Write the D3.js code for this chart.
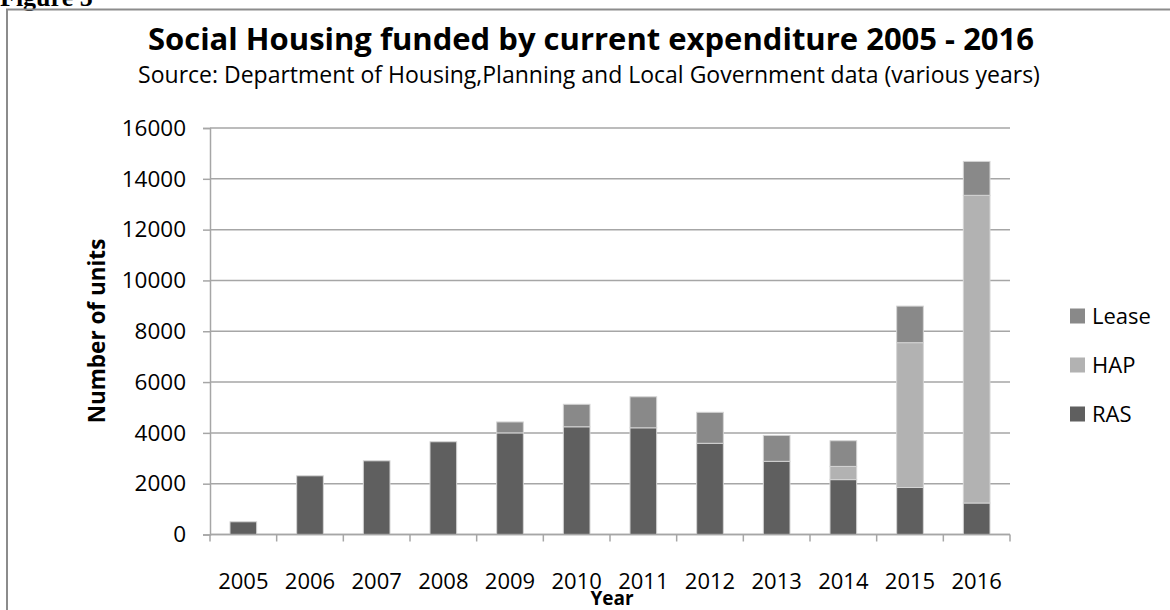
<!DOCTYPE html>
<html>
<head>
<meta charset="utf-8">
<script src="https://cdn.jsdelivr.net/npm/d3@7"></script>
<style>
  body { margin: 0; background: #fff; }
  svg { display: block; }
  text { font-family: "Open Sans", sans-serif; fill: #000; }
</style>
</head>
<body>
<svg width="1170" height="610"></svg>
<script>
// data
const years = ["2005","2006","2007","2008","2009","2010","2011","2012","2013","2014","2015","2016"];
const ras   = [500, 2310, 2900, 3650, 4000, 4240, 4200, 3590, 2880, 2160, 1850, 1240];
const hap   = [0, 0, 0, 0, 0, 0, 0, 0, 0, 520, 5700, 12110];
const lease = [0, 0, 0, 0, 430, 885, 1220, 1220, 1020, 1010, 1440, 1335];
const seriesNames = ["RAS", "HAP", "Lease"];
const seriesColors = ["#5f5f5f", "#b2b2b2", "#898989"];
const yTicks = [0, 2000, 4000, 6000, 8000, 10000, 12000, 14000, 16000];

const rows = years.map((y, i) => ({ year: y, RAS: ras[i], HAP: hap[i], Lease: lease[i] }));

const svg = d3.select("svg");

// figure caption, cut off at the top like the source
svg.append("text")
    .attr("x", 0).attr("y", 6)
    .style("font-family", "'Liberation Serif', serif")
    .attr("font-weight", "bold")
    .attr("font-size", 26)
    .text("Figure 5");

// chart frame
svg.append("rect")
    .attr("x", 7).attr("y", 9.5)
    .attr("width", 1200).attr("height", 700)
    .attr("fill", "none")
    .attr("stroke", "#8c8c8c")
    .attr("stroke-width", 2);

svg.append("text")
    .attr("x", 591).attr("y", 50)
    .attr("text-anchor", "middle")
    .attr("font-weight", "bold")
    .attr("font-size", 31)
    .text("Social Housing funded by current expenditure 2005 - 2016");

svg.append("text")
    .attr("x", 589).attr("y", 83)
    .attr("text-anchor", "middle")
    .attr("font-size", 23)
    .text("Source: Department of Housing,Planning and Local Government data (various years)");

const x = d3.scaleBand().domain(years).range([210, 1010]).paddingInner(0.6).paddingOuter(0.3);
const y = d3.scaleLinear().domain([0, 16000]).range([534.5, 128]);

// gridlines
svg.append("g")
    .selectAll("line")
    .data(yTicks)
    .join("line")
    .attr("x1", 210).attr("x2", 1010)
    .attr("y1", d => y(d)).attr("y2", d => y(d))
    .attr("stroke", "#a6a6a6")
    .attr("stroke-width", 1.5);

// y axis
const yAxis = svg.append("g")
    .attr("transform", "translate(210,0)")
    .call(d3.axisLeft(y).tickValues(yTicks).tickFormat(d3.format("d")).tickSize(7).tickPadding(17));
yAxis.select(".domain").attr("stroke", "#a6a6a6").attr("stroke-width", 1.5);
yAxis.selectAll(".tick line").attr("stroke", "#a6a6a6").attr("stroke-width", 1.5);
yAxis.selectAll("text").attr("font-size", 22.5).attr("font-family", "Open Sans").attr("fill", "#000");

// bars
const stack = d3.stack().keys(seriesNames);
const stacked = stack(rows);
svg.append("g")
    .selectAll("g")
    .data(stacked)
    .join("g")
    .attr("fill", (d, i) => seriesColors[i])
    .selectAll("rect")
    .data(d => d.filter(s => s[1] - s[0] > 0))
    .join("rect")
    .attr("x", d => x(d.data.year))
    .attr("width", x.bandwidth())
    .attr("y", d => y(d[1]))
    .attr("height", d => y(d[0]) - y(d[1]))
    .attr("stroke", "#d4d4d4")
    .attr("stroke-width", 1);

// x axis: baseline and ticks between categories
const boundaries = d3.range(years.length + 1).map(i => 210 + i * (800 / years.length));
svg.append("line")
    .attr("x1", 210).attr("x2", 1010)
    .attr("y1", y(0)).attr("y2", y(0))
    .attr("stroke", "#a6a6a6").attr("stroke-width", 1.5);
svg.append("g")
    .selectAll("line")
    .data(boundaries)
    .join("line")
    .attr("x1", d => d).attr("x2", d => d)
    .attr("y1", y(0)).attr("y2", y(0) + 7)
    .attr("stroke", "#a6a6a6").attr("stroke-width", 1.5);
svg.append("g")
    .selectAll("text")
    .data(years)
    .join("text")
    .attr("x", d => x(d) + x.bandwidth() / 2)
    .attr("y", 589)
    .attr("text-anchor", "middle")
    .attr("font-size", 22)
    .text(d => d);

// axis titles
svg.append("text")
    .attr("transform", "translate(105,331) rotate(-90)")
    .attr("text-anchor", "middle")
    .attr("font-weight", "bold")
    .attr("font-size", 22.5)
    .text("Number of units");

svg.append("text")
    .attr("x", 612).attr("y", 605)
    .attr("text-anchor", "middle")
    .attr("font-weight", "bold")
    .attr("font-size", 19)
    .text("Year");

// legend (top to bottom: Lease, HAP, RAS)
const legendOrder = [2, 1, 0];
const legend = svg.append("g")
    .selectAll("g")
    .data(legendOrder)
    .join("g")
    .attr("transform", (d, i) => `translate(1070,${316 + i * 49})`);
legend.append("rect")
    .attr("x", 0).attr("y", -7.5)
    .attr("width", 15).attr("height", 15)
    .attr("fill", d => seriesColors[d]);
legend.append("text")
    .attr("x", 22).attr("y", 8)
    .attr("font-size", 22)
    .text(d => seriesNames[d]);
</script>
</body>
</html>
